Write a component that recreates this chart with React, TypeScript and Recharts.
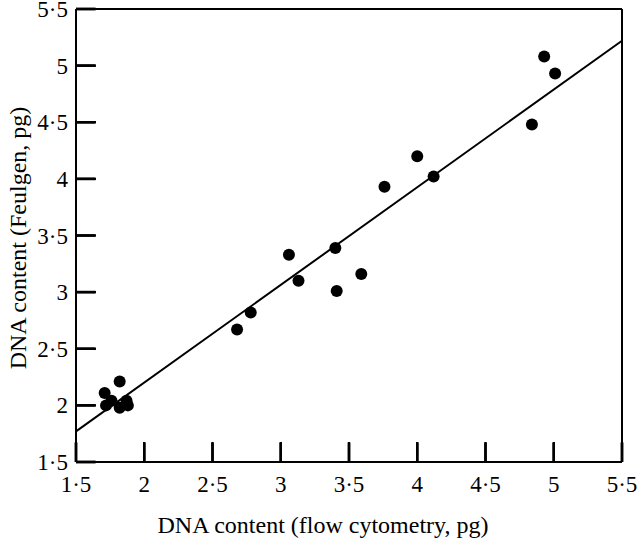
import { ScatterChart, Scatter, XAxis, YAxis, ReferenceLine } from 'recharts';

// DNA content per sample: flow cytometry (x) vs Feulgen (y), pg
const flowCytometry = [1.71, 1.72, 1.76, 1.82, 1.82, 1.87, 1.88, 2.68, 2.78, 3.06, 3.13, 3.4, 3.41, 3.59, 3.76, 4.0, 4.12, 4.84, 4.93, 5.01];
const feulgen = [2.11, 2.0, 2.04, 2.21, 1.98, 2.04, 2.0, 2.67, 2.82, 3.33, 3.1, 3.39, 3.01, 3.16, 3.93, 4.2, 4.02, 4.48, 5.08, 4.93];

// fitted regression line, evaluated at the axis ends
const fitX = [1.5, 5.5];
const fitY = [1.77, 5.22];

const axisTicks = [1.5, 2, 2.5, 3, 3.5, 4, 4.5, 5, 5.5];
const AXIS_MIN = 1.5;
const AXIS_MAX = 5.5;

const xTitle = 'DNA content (flow cytometry, pg)';
const yTitle = 'DNA content (Feulgen, pg)';

const points = flowCytometry.map((x, i) => ({ x, y: feulgen[i] }));

const FONT = '"Liberation Serif", "Times New Roman", serif';
const fmt = (v: number) => String(v).replace('.', '·');

// tickSize -19 / tickMargin 49: label baseline 30px below the axis,
// mark drawn from the axis 19px up into the plot
const XTick = ({ x, y, payload }: any) => (
  <g>
    <path d={`M${x},${y - 30}V${y - 50}`} stroke="#000" strokeWidth={2.5} fill="none" />
    <text x={x} y={y} textAnchor="middle" fontFamily={FONT} fontSize={23} fill="#000">
      {fmt(payload.value)}
    </text>
  </g>
);

// tickSize -19 / tickMargin 27: label ends 8px left of the axis
const YTick = ({ x, y, payload }: any) => (
  <g>
    <path d={`M${x + 8},${y}H${x + 28}`} stroke="#000" strokeWidth={2.5} fill="none" />
    <text x={x} y={y + 8} textAnchor="end" fontFamily={FONT} fontSize={23} fill="#000">
      {fmt(payload.value)}
    </text>
  </g>
);

const Dot = ({ cx, cy }: any) => <circle cx={cx} cy={cy} r={6} fill="#000" />;

const axisStroke = { stroke: '#000', strokeWidth: 2 };

export default function App() {
  return (
    <div style={{ position: 'absolute', left: 0, top: 0, width: 640, height: 539, background: '#fff' }}>
      <ScatterChart width={640} height={539} margin={{ top: 9, right: 18, bottom: 0, left: 16 }}>
        <XAxis
          type="number"
          dataKey="x"
          domain={[AXIS_MIN, AXIS_MAX]}
          ticks={axisTicks}
          interval={0}
          height={77}
          tickSize={-19}
          tickMargin={49}
          tickLine={{ stroke: '#000', strokeWidth: 2.5 }}
          tick={<XTick />}
          axisLine={axisStroke}
        />
        <YAxis
          type="number"
          dataKey="y"
          domain={[AXIS_MIN, AXIS_MAX]}
          ticks={axisTicks}
          interval={0}
          width={60}
          tickSize={-19}
          tickMargin={27}
          tickLine={{ stroke: '#000', strokeWidth: 2.5 }}
          tick={<YTick />}
          axisLine={axisStroke}
        />
        <ReferenceLine x={AXIS_MAX} stroke="#000" strokeWidth={2} />
        <ReferenceLine y={AXIS_MAX} stroke="#000" strokeWidth={2} />
        <ReferenceLine
          segment={[
            { x: fitX[0], y: fitY[0] },
            { x: fitX[1], y: fitY[1] },
          ]}
          stroke="#000"
          strokeWidth={2}
        />
        <Scatter data={points} shape={<Dot />} isAnimationActive={false} />
      </ScatterChart>
      {/* axis titles */}
      <svg
        width={640}
        height={539}
        style={{ position: 'absolute', left: 0, top: 0, pointerEvents: 'none' }}
      >
        <text x={323} y={533} textAnchor="middle" fontFamily={FONT} fontSize={24} fill="#000">
          {xTitle}
        </text>
        <text
          transform="translate(26,238) rotate(-90)"
          textAnchor="middle"
          fontFamily={FONT}
          fontSize={24}
          fill="#000"
        >
          {yTitle}
        </text>
      </svg>
    </div>
  );
}
